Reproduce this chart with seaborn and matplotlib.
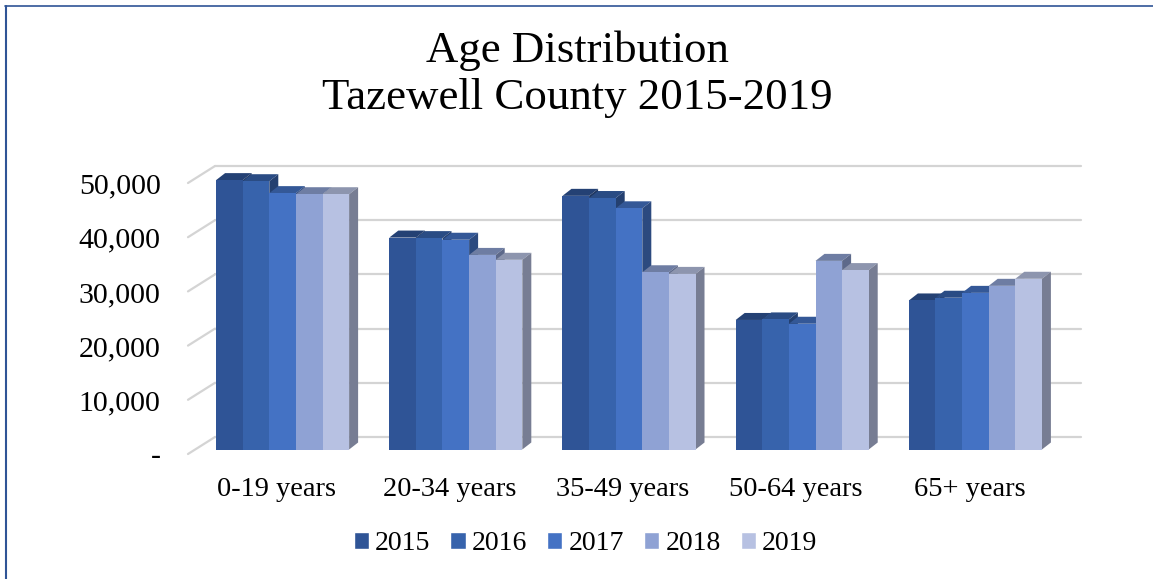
import pandas as pd
import matplotlib.pyplot as plt
import matplotlib.patches as mpatches
import matplotlib.colors as mcolors
from matplotlib.transforms import ScaledTranslation
import seaborn as sns

# values
age_groups = ['0-19 years', '20-34 years', '35-49 years', '50-64 years', '65+ years']
years = ['2015', '2016', '2017', '2018', '2019']
pop_2015 = [49700, 39100, 46800, 23900, 27500]
pop_2016 = [49500, 39000, 46400, 24000, 28000]
pop_2017 = [47300, 38700, 44500, 23200, 28900]
pop_2018 = [47100, 35900, 32700, 34800, 30200]
pop_2019 = [47100, 35000, 32400, 33100, 31500]
colors = ['#2F5496', '#3763AC', '#4472C4', '#8FA2D4', '#B7C1E2']
y_ticks = [0, 10000, 20000, 30000, 40000, 50000]
y_labels = ['-', '10,000', '20,000', '30,000', '40,000', '50,000']

df = pd.DataFrame({'Age': age_groups, '2015': pop_2015, '2016': pop_2016,
                   '2017': pop_2017, '2018': pop_2018, '2019': pop_2019})
df = df.melt(id_vars='Age', var_name='Year', value_name='Population')

sns.set_style('white')
plt.rcParams['font.family'] = ['Liberation Serif', 'DejaVu Serif']

W, H = 1153, 579
fig = plt.figure(figsize=(W / 100, H / 100), dpi=100)
ax = fig.add_axes([196 / W, 1 - 449.5 / H, 866 / W, 271 / H])

sns.barplot(data=df, x='Age', y='Population', hue='Year', hue_order=years,
            palette=colors, width=0.768, gap=0, saturation=1, ax=ax)
ax.set_xlim(-0.5, 4.5)
ax.set_ylim(0, 50000)
ax.set_xlabel('')
ax.set_ylabel('')
ax.set_yticks(y_ticks)
ax.set_yticklabels(y_labels)
sns.despine(ax=ax, left=True, bottom=True)
ax.tick_params(axis='both', length=0, colors='black', labelsize=20.5)
ax.tick_params(axis='y', pad=25.5, labelsize=21.5)
ax.tick_params(axis='x', pad=20)

# pixel sizes to data units
px_x = 5 / 866
px_y = 50000 / 271

# 3D look: side and top faces worked out from the seaborn bars
dx, dy = 9 * px_x, 7 * px_y
bars = [b for b in ax.patches if b.get_height() > 0]
bars = sorted(bars, key=lambda b: b.get_x())
for i, b in enumerate(bars):
    x0, w, h = b.get_x(), b.get_width(), b.get_height()
    rgb = mcolors.to_rgb(b.get_facecolor())
    z = 3 + i
    b.set_zorder(z + 0.5)
    b.set_linewidth(0)
    top = [c * 0.77 for c in rgb]
    side = [c * 0.65 for c in rgb]
    ax.add_patch(mpatches.Polygon([(x0, h), (x0 + dx, h + dy), (x0 + w + dx, h + dy), (x0 + w, h)],
                                  facecolor=top, edgecolor='none', zorder=z, clip_on=False))
    ax.add_patch(mpatches.Polygon([(x0 + w, 0), (x0 + w + dx, dy), (x0 + w + dx, h + dy), (x0 + w, h)],
                                  facecolor=side, edgecolor='none', zorder=z, clip_on=False))

# gridlines sit on the back wall, stubs run forward to the labels
back = ScaledTranslation(19 / 100, 12.5 / 100, fig.dpi_scale_trans)
ax.grid(True, axis='y', color='#D4D4D4', linewidth=1.6)
ax.set_axisbelow(True)
for line in ax.get_ygridlines():
    line.set_transform(line.get_transform() + back)
    line.set_clip_on(False)
for t in y_ticks:
    ax.plot([-8 / 866, 19 / 866], [t - 4.5 * px_y, t + 12.5 * px_y], color='#D4D4D4', linewidth=1.6,
            transform=ax.get_yaxis_transform(), clip_on=False, zorder=1)

# tick labels line up with the front end of the stubs
down = ScaledTranslation(0, -5 / 100, fig.dpi_scale_trans)
for label in ax.get_yticklabels():
    label.set_transform(label.get_transform() + down)
left = ScaledTranslation(-6 / 100, 0, fig.dpi_scale_trans)
for label in ax.get_xticklabels():
    label.set_transform(label.get_transform() + left)

sns.move_legend(ax, 'center', bbox_to_anchor=(585.5 / W, 1 - 544 / H), bbox_transform=fig.transFigure,
                ncol=5, frameon=False, title=None, fontsize=20, handlelength=0.55, handleheight=0.55,
                handletextpad=0.22, columnspacing=0.72, labelcolor='black')

fig.text(577 / W, 1 - 74.5 / H, 'Age Distribution\nTazewell County 2015-2019', ha='center', va='center',
         fontsize=32.3, linespacing=1.22, color='black')

# thin blue frame
fig.add_artist(plt.Line2D([6 / W, 6 / W], [0, 1 - 5.5 / H], color='#2F5496', linewidth=1.5))
fig.add_artist(plt.Line2D([5 / W, 1], [1 - 6 / H, 1 - 6 / H], color='#2F5496', linewidth=1.2))

fig.savefig('out.png', dpi=100)
